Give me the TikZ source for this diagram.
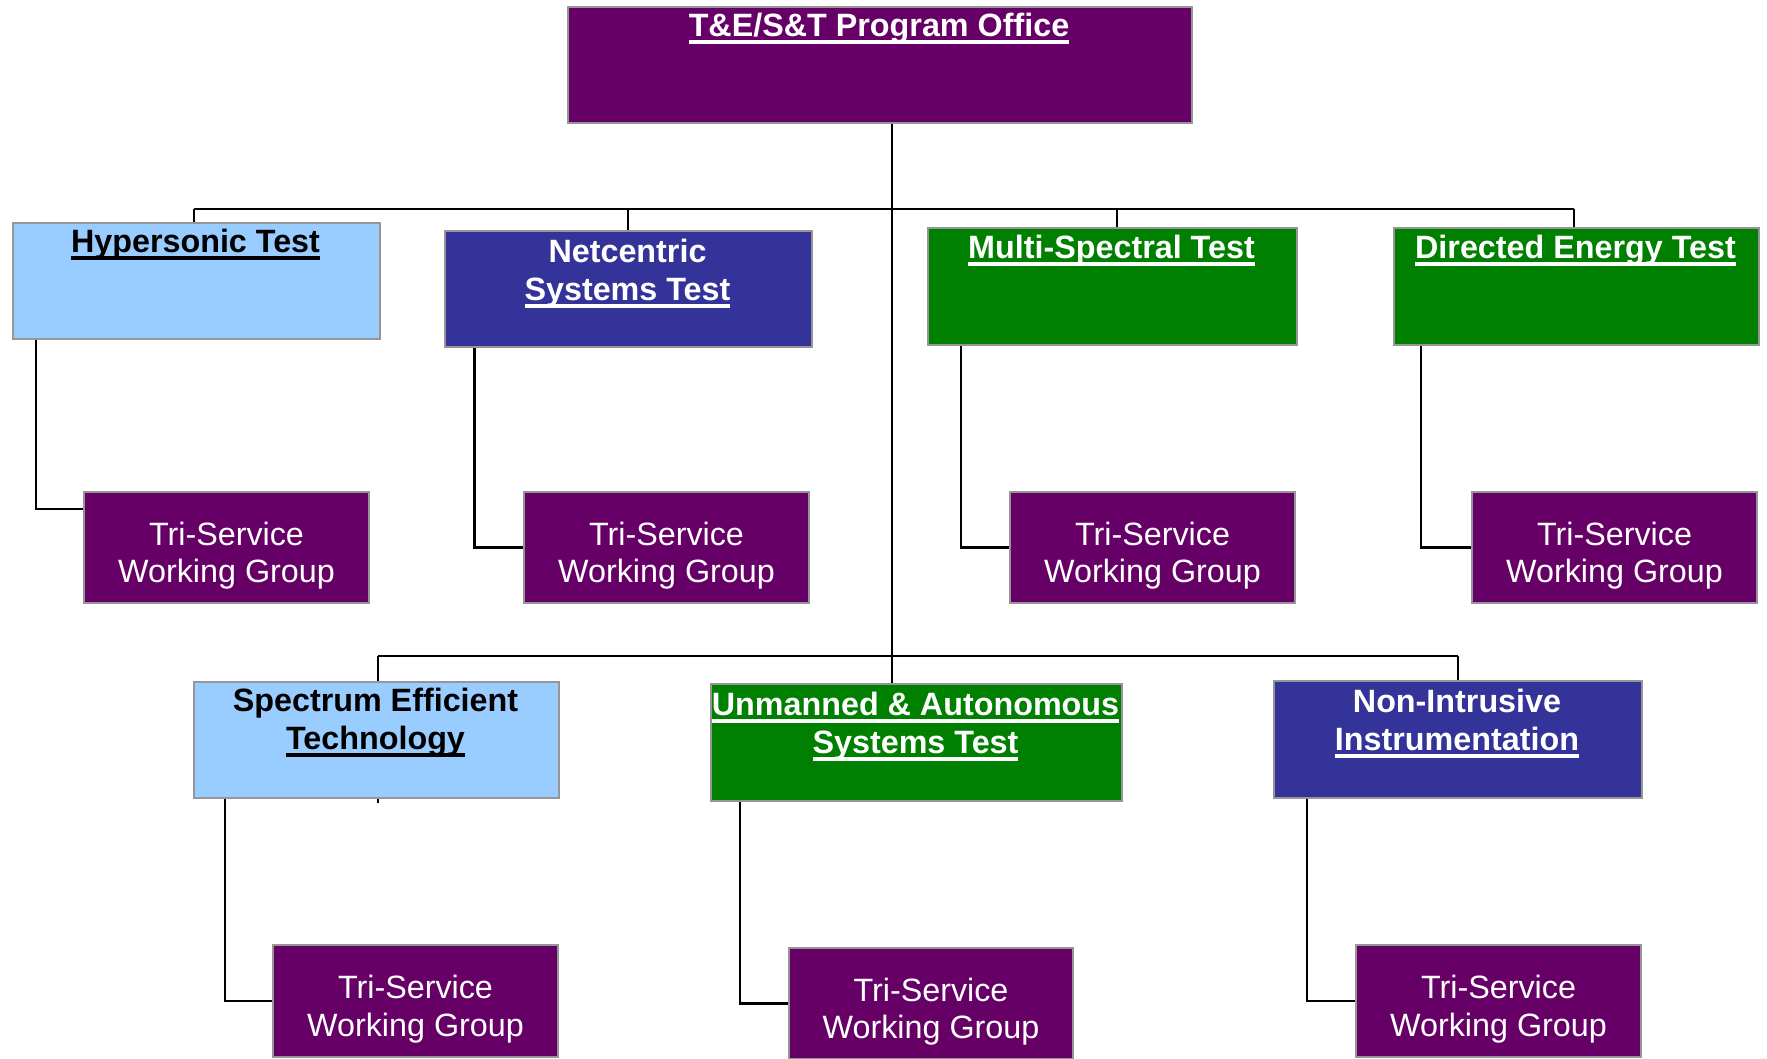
\documentclass[tikz,border=0pt]{standalone}
\usepackage{fontspec}
\setmainfont{Liberation Sans}
\usetikzlibrary{backgrounds}
\definecolor{cpurple}{HTML}{660066}
\definecolor{clblue}{HTML}{99CCFF}
\definecolor{cnavy}{HTML}{333399}
\definecolor{cgreen}{HTML}{008000}
\definecolor{cborder}{HTML}{969696}
\newcommand\myul[1]{\setbox0\hbox{#1}\rlap{\vrule height -3.5pt depth 7pt width \wd0}\box0}
\tikzset{
  orgbox/.style={draw=cborder, line width=2pt, rectangle, inner sep=0pt, anchor=north west},
  ttl/.style={font=\bfseries\fontsize{32.3}{38}\selectfont, align=center, anchor=north, inner sep=0pt},
  wgtxt/.style={text=white, font=\fontsize{32.3}{37.5}\selectfont, align=center, inner sep=0pt},
  conn/.style={draw=black, line width=2.6pt}
}
\begin{document}
\begin{tikzpicture}[x=1pt,y=-1pt]
\useasboundingbox (0,0) rectangle (1767,1059);
% boxes
\node[orgbox, fill=cpurple, minimum width=624pt, minimum height=116pt] (top) at (567,6) {};
\node[orgbox, fill=clblue, minimum width=367pt, minimum height=116pt] (hyp) at (12,222) {};
\node[orgbox, fill=cnavy, minimum width=367pt, minimum height=116pt] (net) at (444,230) {};
\node[orgbox, fill=cgreen, minimum width=369pt, minimum height=117pt] (msp) at (927,227) {};
\node[orgbox, fill=cgreen, minimum width=365pt, minimum height=117pt] (den) at (1393,227) {};
\node[orgbox, fill=clblue, minimum width=365pt, minimum height=116pt] (spec) at (193,681) {};
\node[orgbox, fill=cgreen, minimum width=411pt, minimum height=117pt] (unm) at (710,683) {};
\node[orgbox, fill=cnavy, minimum width=368pt, minimum height=117pt] (nin) at (1273,680) {};
\node[orgbox, fill=cpurple, minimum width=285pt, minimum height=111pt] (tw1) at (83,491) {};
\node[orgbox, fill=cpurple, minimum width=285pt, minimum height=111pt] (tw2) at (523,491) {};
\node[orgbox, fill=cpurple, minimum width=285pt, minimum height=111pt] (tw3) at (1009,491) {};
\node[orgbox, fill=cpurple, minimum width=285pt, minimum height=111pt] (tw4) at (1471,491) {};
\node[orgbox, fill=cpurple, minimum width=285pt, minimum height=112pt] (tw5) at (272,944) {};
\node[orgbox, fill=cpurple, minimum width=284pt, minimum height=111pt] (tw6) at (788,947) {};
\node[orgbox, fill=cpurple, minimum width=285pt, minimum height=112pt] (tw7) at (1355,944) {};
% titles
\node[ttl, text=white] (topt) at (879,13) {\myul{T\&E/S\&T Program Office}};
\node[ttl, text=black] (hypt) at (195.5,229) {\myul{Hypersonic Test}};
\node[ttl, text=white] (nett) at (627.5,239) {Netcentric\\\myul{Systems Test}};
\node[ttl, text=white] (mspt) at (1111.5,235) {\myul{Multi-Spectral Test}};
\node[ttl, text=white] (dent) at (1575.5,235) {\myul{Directed Energy Test}};
\node[ttl, text=black] (spect) at (375.5,688) {Spectrum Efficient\\\myul{Technology}};
\node[ttl, text=white] (unmt) at (915.5,692) {\myul{Unmanned \& Autonomous}\\\myul{Systems Test}};
\node[ttl, text=white] (nint) at (1457,689) {Non-Intrusive\\\myul{Instrumentation}};
% working group texts
\node[wgtxt] (tw1t) at ([yshift=-8pt]tw1.center) {Tri-Service\\Working Group};
\node[wgtxt] (tw2t) at ([yshift=-8pt]tw2.center) {Tri-Service\\Working Group};
\node[wgtxt] (tw3t) at ([yshift=-8pt]tw3.center) {Tri-Service\\Working Group};
\node[wgtxt] (tw4t) at ([yshift=-8pt]tw4.center) {Tri-Service\\Working Group};
\node[wgtxt] (tw5t) at ([yshift=-8pt]tw5.center) {Tri-Service\\Working Group};
\node[wgtxt] (tw6t) at ([yshift=-8pt]tw6.center) {Tri-Service\\Working Group};
\node[wgtxt] (tw7t) at ([yshift=-8pt]tw7.center) {Tri-Service\\Working Group};
% coordinates
\coordinate (tk) at (892,0);
\coordinate (b1L) at (194,209);
\coordinate (b1R) at (1574,209);
\coordinate (t2) at (628,209);
\coordinate (t3) at (1117,209);
\coordinate (b2L) at (378,656);
\coordinate (b2R) at (1458,656);
\coordinate (s5) at (378,803);
\coordinate (c1) at (36,0);
\coordinate (c2) at (474.5,0);
\coordinate (c3) at (961,0);
\coordinate (c4) at (1421,0);
\coordinate (c5) at (225,0);
\coordinate (c6) at (740,0);
\coordinate (c7) at (1307,0);
\begin{scope}[on background layer]
\fill[white] (0,0) rectangle (1767,1059);
\draw[conn] (top.south -| tk) -- (unm.north -| tk);
\draw[conn] (b1L) -- (b1R);
\draw[conn] (b1L) -- (b1L |- hyp.north);
\draw[conn] (t2) -- (t2 |- net.north);
\draw[conn] (t3) -- (t3 |- msp.north);
\draw[conn] (b1R) -- (b1R |- den.north);
\draw[conn] (b2L) -- (b2R);
\draw[conn] (b2L) -- (s5);
\draw[conn] (b2R) -- (b2R |- nin.north);
\draw[conn] (c1 |- hyp.south) |- ([yshift=38.5pt]tw1.west);
\draw[conn] (c2 |- net.south) |- (tw2.west);
\draw[conn] (c3 |- msp.south) |- (tw3.west);
\draw[conn] (c4 |- den.south) |- (tw4.west);
\draw[conn] (c5 |- spec.south) |- (tw5.west);
\draw[conn] (c6 |- unm.south) |- (tw6.west);
\draw[conn] (c7 |- nin.south) |- (tw7.west);
\end{scope}
\end{tikzpicture}
\end{document}
